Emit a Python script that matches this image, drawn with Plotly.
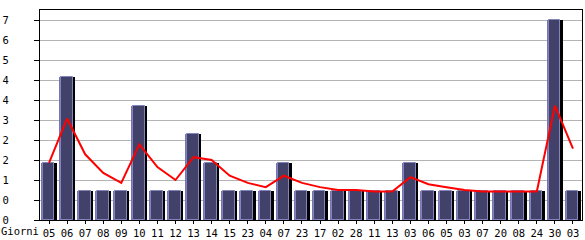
import plotly.graph_objects as go

days = ["05", "06", "07", "08", "09", "10", "11", "12", "13", "14", "15", "23", "04", "07", "23",
        "17", "02", "28", "11", "13", "03", "06", "05", "03", "07", "20", "08", "24", "30", "03"]
visits = [2, 5, 1, 1, 1, 4, 1, 1, 3, 2, 1, 1, 1, 2, 1,
          1, 1, 1, 1, 1, 2, 1, 1, 1, 1, 1, 1, 1, 7, 1]
trend = [2.0, 3.55, 2.3, 1.65, 1.3, 2.65, 1.85, 1.4, 2.2, 2.1, 1.55, 1.3, 1.15, 1.55, 1.3,
         1.15, 1.05, 1.05, 1.0, 1.0, 1.5, 1.25, 1.15, 1.05, 1.0, 1.0, 1.0, 1.0, 4.0, 2.5]
y_ticks = [0, 0.7, 1.4, 2.1, 2.8, 3.5, 4.2, 4.9, 5.6, 6.3, 7.0]
y_labels = ["0", "0", "1", "2", "2", "3", "4", "4", "5", "6", "7"]
x_title = "Giorni"

xs = list(range(len(days)))
FONT = dict(family="DejaVu Sans Mono", size=10.5, color="black")

fig = go.Figure()
# light left/top edge
fig.add_trace(go.Bar(x=xs, y=visits, offset=-0.46, width=0.76,
                     marker=dict(color="#7676b4", line=dict(width=0)), hoverinfo="skip"))
# body
fig.add_trace(go.Bar(x=xs, y=visits, offset=-0.35, width=0.65,
                     marker=dict(color="#414169", line=dict(width=1, color="#8484bc")),
                     hoverinfo="skip"))
# dark right shadow
fig.add_trace(go.Bar(x=xs, y=visits, offset=0.30, width=0.13,
                     marker=dict(color="#000000", line=dict(width=0)), hoverinfo="skip"))
# trend line
fig.add_trace(go.Scatter(x=xs, y=trend, mode="lines",
                         line=dict(color="#ff0000", width=2), hoverinfo="skip"))

fig.update_layout(
    width=585, height=240,
    margin=dict(l=40, r=3, t=10, b=20, autoexpand=False),
    paper_bgcolor="white", plot_bgcolor="white",
    barmode="overlay", bargap=0, showlegend=False,
    font=FONT,
    xaxis=dict(range=[-0.5, len(days) - 0.5], tickmode="array", tickvals=xs, ticktext=days,
               showgrid=False, zeroline=False, showline=True, linecolor="black", linewidth=1,
               mirror=True, ticks="outside", ticklen=3, tickcolor="black", tickwidth=1,
               ticklabelstandoff=0, tickfont=FONT, automargin=False),
    yaxis=dict(range=[0, 7.35], tickmode="array", tickvals=y_ticks, ticktext=y_labels,
               showgrid=True, gridcolor="#b4b4b4", gridwidth=1, zeroline=False,
               showline=True, linecolor="black", linewidth=1, mirror=True,
               ticks="outside", ticklen=5, tickcolor="black", tickwidth=1,
               ticklabelstandoff=23, tickfont=FONT, automargin=False),
    annotations=[dict(text=x_title, xref="paper", yref="paper", x=0, y=0,
                      xanchor="left", yanchor="top", xshift=-41, yshift=-3,
                      showarrow=False, font=FONT)],
)

fig.write_html("out.html")
